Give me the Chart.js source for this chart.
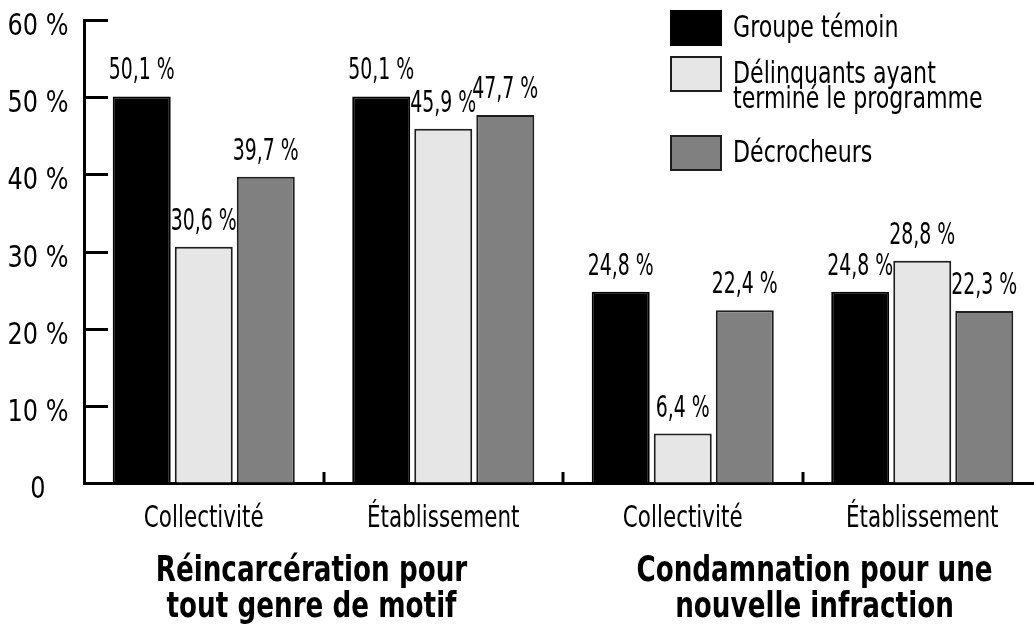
<!DOCTYPE html>
<html>
<head>
<meta charset="utf-8">
<script src="https://cdn.jsdelivr.net/npm/chart.js@4.4.0/dist/chart.umd.min.js"></script>
<style>
  html, body { margin: 0; padding: 0; background: #fff; overflow: hidden; }
  #wrap { width: 1042px; height: 636px; }
</style>
</head>
<body>
<div id="wrap"><canvas id="barChart"></canvas></div>
<script>
const categories = ['Collectivité', 'Établissement', 'Collectivité', 'Établissement'];
const groupTitles = [
  ['Réincarcération pour', 'tout genre de motif'],
  ['Condamnation pour une', 'nouvelle infraction'],
];
const seriesNames = [
  ['Groupe témoin'],
  ['Délinquants ayant', 'terminé le programme'],
  ['Décrocheurs'],
];
const temoin = [50.1, 50.1, 24.8, 24.8];
const termine = [30.6, 45.9, 6.4, 28.8];
const decrocheurs = [39.7, 47.7, 22.4, 22.3];
const yTicks = [0, 10, 20, 30, 40, 50, 60];

const FONT = '"DejaVu Sans Condensed", "Liberation Sans Narrow", sans-serif';
const colors = ['#000000', '#e6e6e6', '#808080'];
const outline = ['#000000', '#1e1e1e', '#1e1e1e'];
const titleShift = [-12, 12];

const fmt = v => v.toFixed(1).replace('.', ',') + ' %';
const yFmt = v => (v === 0 ? '0' : v + ' %');

// squeeze text sideways so it looks like the tall narrow face of the original
function narrowText(c, text, x, y, sx) {
  c.save();
  c.translate(x, y);
  c.scale(sx, 1);
  c.fillText(text, 0, 0);
  c.restore();
}

const whiteBg = {
  id: 'whiteBg',
  beforeDraw(chart) {
    const c = chart.ctx;
    c.save();
    c.fillStyle = '#fff';
    c.fillRect(0, 0, chart.width, chart.height);
    c.restore();
  },
};

// inner ticks on the y axis, small up-ticks between categories on the x axis,
// and the tick labels of both axes, placed from the scales
const axisTicks = {
  id: 'axisTicks',
  afterDraw(chart) {
    const c = chart.ctx;
    const { x, y } = chart.scales;
    const area = chart.chartArea;
    c.save();
    c.strokeStyle = '#000';
    c.lineWidth = 3;
    y.ticks.forEach(t => {
      if (t.value === 0) return;
      const py = Math.round(y.getPixelForValue(t.value)) + 0.5;
      c.beginPath();
      c.moveTo(area.left, py);
      c.lineTo(area.left + 24, py);
      c.stroke();
    });
    for (let i = 0; i < categories.length - 1; i++) {
      const px = Math.round((x.getPixelForValue(i) + x.getPixelForValue(i + 1)) / 2);
      c.beginPath();
      c.moveTo(px, area.bottom);
      c.lineTo(px, area.bottom - 11);
      c.stroke();
    }
    c.fillStyle = '#000';
    c.textBaseline = 'alphabetic';
    c.textAlign = 'center';
    c.font = '31px ' + FONT;
    y.ticks.forEach(t => {
      narrowText(c, yFmt(t.value), 38, y.getPixelForValue(t.value) + 15, 0.86);
    });
    x.getLabels().forEach((lab, i) => {
      narrowText(c, lab, x.getPixelForValue(i), area.bottom + 44, 0.77);
    });
    c.restore();
  },
};

const valueLabels = {
  id: 'valueLabels',
  afterDatasetsDraw(chart) {
    const c = chart.ctx;
    c.save();
    c.font = '30px ' + FONT;
    c.fillStyle = '#000';
    c.textAlign = 'center';
    c.textBaseline = 'alphabetic';
    chart.data.datasets.forEach((ds, i) => {
      chart.getDatasetMeta(i).data.forEach((bar, j) => {
        narrowText(c, fmt(ds.data[j]), bar.x, bar.y - 17, 0.7);
      });
    });
    c.restore();
  },
};

const groupLabels = {
  id: 'groupLabels',
  afterDraw(chart) {
    const c = chart.ctx;
    const x = chart.scales.x;
    c.save();
    c.font = 'bold 36px ' + FONT;
    c.fillStyle = '#000';
    c.textAlign = 'center';
    c.textBaseline = 'alphabetic';
    groupTitles.forEach((lines, g) => {
      const cx = (x.getPixelForValue(2 * g) + x.getPixelForValue(2 * g + 1)) / 2 + titleShift[g];
      lines.forEach((t, k) => narrowText(c, t, cx, 581 + k * 36, 0.81));
    });
    c.restore();
  },
};

const boxLegend = {
  id: 'boxLegend',
  afterDraw(chart) {
    const c = chart.ctx;
    const tops = [10, 56, 135];
    c.save();
    c.font = '30px ' + FONT;
    c.textAlign = 'left';
    c.textBaseline = 'middle';
    chart.data.datasets.forEach((ds, i) => {
      const top = tops[i];
      c.fillStyle = ds.backgroundColor;
      c.fillRect(670, top, 52, 36);
      c.strokeStyle = ds.borderColor;
      c.lineWidth = 2;
      c.strokeRect(671, top + 1, 50, 34);
      c.fillStyle = '#000';
      seriesNames[i].forEach((line, k) => narrowText(c, line, 733, top + 19 + k * 25, 0.82));
    });
    c.restore();
  },
};

const series = [temoin, termine, decrocheurs];

const myChart = new Chart(document.getElementById('barChart'), {
  type: 'bar',
  data: {
    labels: categories,
    datasets: series.map((d, i) => ({
      label: seriesNames[i].join(' '),
      data: d,
      backgroundColor: colors[i],
      borderColor: outline[i],
      borderWidth: 2,
      categoryPercentage: 0.777,
      barPercentage: 0.935,
    })),
  },
  options: {
    responsive: true,
    maintainAspectRatio: false,
    animation: false,
    devicePixelRatio: 1,
    layout: { padding: { top: 20, left: 0, right: 0, bottom: 0 } },
    plugins: {
      legend: { display: false },
      tooltip: { enabled: false },
    },
    scales: {
      x: {
        ticks: { display: false },
        grid: { display: true, drawOnChartArea: false, drawTicks: false },
        border: { display: true, color: '#000', width: 3 },
        afterFit: s => { s.height = 153; s.paddingLeft = 0; s.paddingRight = 0; },
      },
      y: {
        min: 0,
        max: 60,
        afterBuildTicks: s => { s.ticks = yTicks.map(v => ({ value: v })); },
        ticks: { display: false },
        grid: { display: true, drawOnChartArea: false, drawTicks: false },
        border: { display: true, color: '#000', width: 3 },
        afterFit: s => { s.width = 84; s.paddingTop = 0; s.paddingBottom = 0; },
      },
    },
  },
  plugins: [whiteBg, axisTicks, valueLabels, groupLabels, boxLegend],
});
</script>
</body>
</html>
